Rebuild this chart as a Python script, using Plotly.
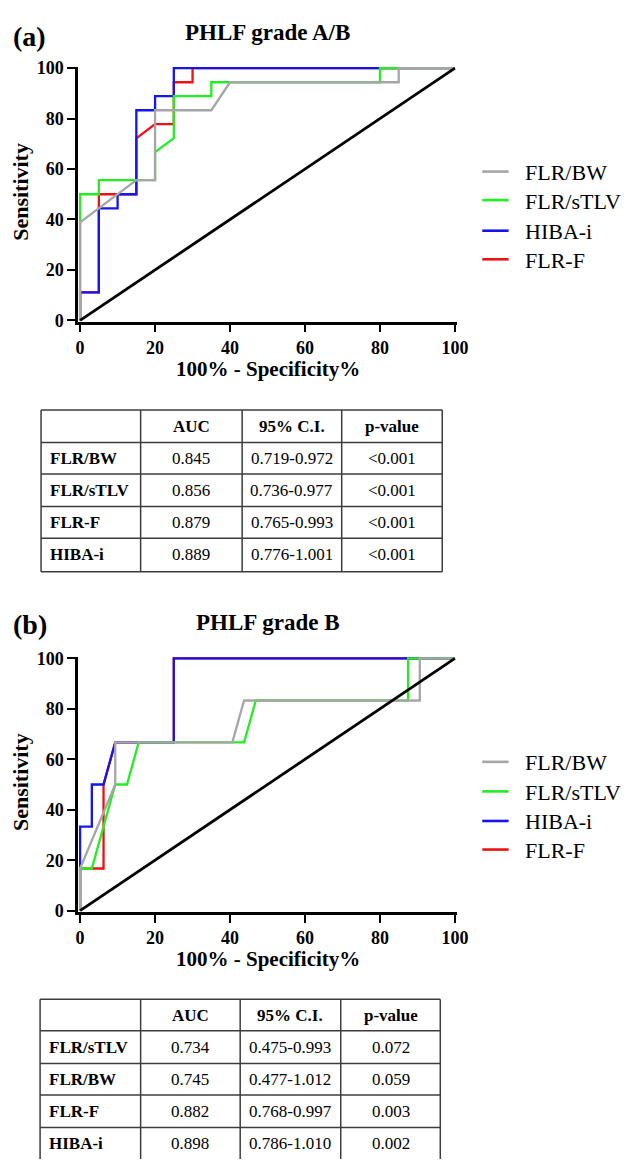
import plotly.graph_objects as go

W, H = 627, 1166
SERIF = "Liberation Serif, Times New Roman, serif"

# ---------------- data ----------------
# Panel (a): PHLF grade A/B  (x = 100% - Specificity%, y = Sensitivity %)
a_bw_x = [0, 0, 15, 20, 20, 35, 40, 85, 85, 100]
a_bw_y = [0, 38.9, 55.6, 55.6, 83.3, 83.3, 94.4, 94.4, 100, 100]
a_stlv_x = [0, 0, 5, 5, 20, 20, 25, 25, 35, 35, 80, 80, 100]
a_stlv_y = [0, 50, 50, 55.6, 55.6, 66.7, 72.2, 88.9, 88.9, 94.4, 94.4, 100, 100]
a_hiba_x = [0, 0, 5, 5, 10, 10, 15, 15, 20, 20, 25, 25, 100]
a_hiba_y = [0, 11.1, 11.1, 44.4, 44.4, 50, 50, 83.3, 83.3, 88.9, 88.9, 100, 100]
a_flrf_x = [0, 0, 5, 5, 15, 15, 20, 25, 25, 30, 30, 100]
a_flrf_y = [0, 11.1, 11.1, 50, 50, 72.2, 77.8, 77.8, 94.4, 94.4, 100, 100]

# Panel (b): PHLF grade B
b_bw_x = [0, 0, 9.375, 9.375, 40.625, 43.75, 90.625, 90.625, 100]
b_bw_y = [0, 16.7, 50, 66.7, 66.7, 83.3, 83.3, 100, 100]
b_stlv_x = [0, 0, 3.125, 9.375, 12.5, 15.625, 43.75, 46.875, 87.5, 87.5, 100]
b_stlv_y = [0, 16.7, 16.7, 50, 50, 66.7, 66.7, 83.3, 83.3, 100, 100]
b_hiba_x = [0, 0, 3.125, 3.125, 6.25, 9.375, 25, 25, 100]
b_hiba_y = [0, 33.3, 33.3, 50, 50, 66.7, 66.7, 100, 100]
b_flrf_x = [0, 0, 6.25, 6.25, 9.375, 25, 25, 100]
b_flrf_y = [0, 16.7, 16.7, 50, 66.7, 66.7, 100, 100]

ref_x = [0, 100]
ref_y = [0, 100]

tick_vals = [0, 20, 40, 60, 80, 100]

series_names = ["FLR/BW", "FLR/sTLV", "HIBA-i", "FLR-F"]
series_colors = ["#a6a6a6", "#22ee22", "#1515f0", "#f01010"]

# Tables
tbl_header = ["", "AUC", "95% C.I.", "p-value"]
a_rows = ["FLR/BW", "FLR/sTLV", "FLR-F", "HIBA-i"]
a_auc = ["0.845", "0.856", "0.879", "0.889"]
a_ci = ["0.719-0.972", "0.736-0.977", "0.765-0.993", "0.776-1.001"]
a_p = ["<0.001", "<0.001", "<0.001", "<0.001"]
b_rows = ["FLR/sTLV", "FLR/BW", "FLR-F", "HIBA-i"]
b_auc = ["0.734", "0.745", "0.882", "0.898"]
b_ci = ["0.475-0.993", "0.477-1.012", "0.768-0.997", "0.786-1.010"]
b_p = ["0.072", "0.059", "0.003", "0.002"]

# ---------------- layout helpers ----------------
def xp(px):
    return px / W

def yp(py):
    return 1 - py / H

PAD = 0.5  # data units of padding so lines at 0/100 aren't clipped
X0, X100 = 79, 463
ppx = (X100 - X0) / 100.0

def xdom():
    return [xp(X0 - PAD * ppx), xp(X100 + PAD * ppx)]

def ydom(top100, bot0):
    ppy = (bot0 - top100) / 100.0
    return [yp(bot0 + PAD * ppy), yp(top100 - PAD * ppy)]

fig = go.Figure()

panels = [
    dict(xa="x", ya="y",
         data=[(a_bw_x, a_bw_y), (a_stlv_x, a_stlv_y), (a_hiba_x, a_hiba_y), (a_flrf_x, a_flrf_y)]),
    dict(xa="x2", ya="y2",
         data=[(b_bw_x, b_bw_y), (b_stlv_x, b_stlv_y), (b_hiba_x, b_hiba_y), (b_flrf_x, b_flrf_y)]),
]

draw_order = [3, 2, 1, 0]  # red, blue, green, gray
for p in panels:
    for i in draw_order:
        xs, ys = p["data"][i]
        fig.add_trace(go.Scatter(x=xs, y=ys, mode="lines", name=series_names[i],
                                 line=dict(color=series_colors[i], width=2.3),
                                 xaxis=p["xa"], yaxis=p["ya"], showlegend=False,
                                 hoverinfo="skip"))
    fig.add_trace(go.Scatter(x=ref_x, y=ref_y, mode="lines", line=dict(color="black", width=2.8),
                             xaxis=p["xa"], yaxis=p["ya"], showlegend=False, hoverinfo="skip"))

axis_common = dict(
    range=[-PAD, 100 + PAD], showgrid=False, zeroline=False, showline=True,
    linecolor="black", linewidth=2.6, ticks="outside", ticklen=8, tickwidth=2.4,
    tickcolor="black", tickvals=tick_vals, layer="below traces",
    tickfont=dict(family=SERIF, size=18, color="black", weight="bold"),
    fixedrange=True,
)

fig.update_layout(
    width=W, height=H, margin=dict(l=0, r=0, t=0, b=0),
    paper_bgcolor="white", plot_bgcolor="white", showlegend=False,
    xaxis=dict(domain=xdom(), anchor="y", **axis_common),
    yaxis=dict(domain=ydom(61, 317), anchor="x", **axis_common),
    xaxis2=dict(domain=xdom(), anchor="y2", **axis_common),
    yaxis2=dict(domain=ydom(660, 916), anchor="x2", **axis_common),
)

annotations = []
shapes = []

def text(px, py, s, size, bold=False, xanchor="center", yanchor="middle", angle=0):
    annotations.append(dict(
        x=xp(px), y=yp(py), xref="paper", yref="paper", showarrow=False,
        text=s.replace("<", "&lt;"), xanchor=xanchor, yanchor=yanchor, textangle=angle,
        font=dict(family=SERIF, size=size, color="black", weight="bold" if bold else "normal"),
    ))

def line(x0, y0, x1, y1, color, width):
    shapes.append(dict(type="line", xref="paper", yref="paper",
                       x0=xp(x0), y0=yp(y0), x1=xp(x1), y1=yp(y1),
                       line=dict(color=color, width=width)))

# Panel titles and axis titles
for label, title, off in [("(a)", "PHLF grade A/B", 0), ("(b)", "PHLF grade B", 599)]:
    text(8, 29 + off - (2 if off else 0), label, 28, bold=True, xanchor="left")
    text(271, 25 + off, title, 23, bold=True)
    text(18, 187 + off, "Sensitivity", 22, bold=True, angle=-90)
    text(272, 366 + off, "100% - Specificity%", 21, bold=True)

# Legends
for ys in ([166, 195, 226, 255], [765, 795, 825, 854]):
    for name, color, yy in zip(series_names, series_colors, ys):
        line(491, yy, 518, yy, color, 2.6)
        text(533, yy + 1, name, 22, xanchor="left")

# Tables
def table(col_x, row_y, header, rows, auc, ci, pv):
    border = "#3c3c3c"
    bottom = min(row_y[-1], H + 4)
    for cx in col_x:
        line(cx, row_y[0], cx, bottom, border, 1.5)
    for ry in row_y:
        if ry < H - 1:  # the last border of panel (b) lies below the page edge
            line(col_x[0], ry, col_x[-1], ry, border, 1.5)
    centers = [(col_x[k] + col_x[k + 1]) / 2 for k in range(len(col_x) - 1)]
    hy = (row_y[0] + row_y[1]) / 2
    for k, h in enumerate(header):
        if h:
            text(centers[k], hy, h, 17, bold=True)
    for r in range(len(rows)):
        cy = (row_y[r + 1] + row_y[r + 2]) / 2
        text(col_x[0] + 7, cy, rows[r], 17, bold=True, xanchor="left")
        text(centers[1], cy, auc[r], 17)
        text(centers[2], cy, ci[r], 17)
        text(centers[3], cy, pv[r], 17)

table([39, 141, 245, 347, 450], [408, 441, 473, 506, 538, 572],
      tbl_header, a_rows, a_auc, a_ci, a_p)
table([38, 141, 243, 346, 448], [1006, 1038, 1071, 1103, 1136, 1168],
      tbl_header, b_rows, b_auc, b_ci, b_p)

fig.update_layout(annotations=annotations, shapes=shapes)
fig.write_html("out.html")
